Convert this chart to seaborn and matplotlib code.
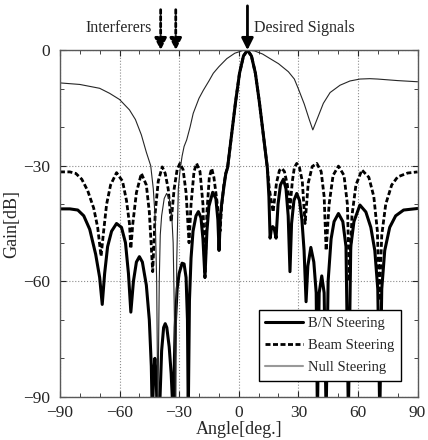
import pandas as pd
import seaborn as sns
import matplotlib.pyplot as plt

# B/N steering (thick solid)
bn_angle = [-90, -85, -81, -78, -75, -72, -70, -68.7, -67.5, -66, -64, -61.5, -59, -57, -55.5,
            -54.3, -53, -51.5, -50, -48.5, -46.5, -45, -44, -43.5, -42.8, -42.2, -41.6, -41,
            -39.6, -38.8, -37.8, -37, -36.2, -35, -34, -33, -32, -31, -30, -28.5, -27.5, -26.5,
            -25.8, -25.4, -24.8, -24, -23, -21.5, -20.3, -19, -18, -17, -16, -15, -13.1, -11.5,
            -10.5, -9.9, -9.2, -8.6, -7.6, -6.5, -5.6, -3.6, -1.6, 0.4, 2.4, 4.4, 6.4, 8.4,
            10.4, 12.4, 14.4, 15.2, 15.8, 16.5, 17.1, 17.8, 18.8, 19.8, 21, 22.5, 23.8, 24.9,
            25.8, 26.6, 27.8, 29.2, 30.6, 31.8, 32.9, 33.9, 34.8, 36.3, 37.8, 39, 39.6, 40.5,
            41.8, 43, 44, 45, 46.5, 48, 50.2, 52.4, 54, 55.2, 56.4, 58, 61, 64, 66.5, 68.5,
            70, 71, 72, 73.5, 76, 79, 83, 90]
bn_gain = [-41.2, -41.2, -41.5, -43, -46.5, -53, -59, -66, -58, -51, -47, -45, -46, -50, -58,
           -68, -60, -55, -53.6, -55, -61, -70, -82, -95, -84, -80, -84, -95,
           -90, -78, -72, -71, -72, -77, -84, -95, -72, -62, -58, -55.3, -55.5, -59,
           -70, -95, -65, -54, -47, -43, -41.9, -43.5, -49, -59, -47, -40.5, -36.9, -38.5,
           -44, -52, -43, -40, -36, -32, -30.5, -22, -13.5, -6, -1.5, 0, -1.5, -6,
           -13.5, -22, -30.5, -38, -48.8, -46.2, -45.8, -46.2, -48.8, -40, -35, -33.5, -36, -43,
           -57.5, -45, -39, -37.2, -39, -44, -52, -65.3, -56, -51.2, -55, -63, -95, -63,
           -58.6, -63, -95, -60, -49, -44.5, -42.4, -44.5, -51, -95, -51, -44.5, -40.2, -42, -46, -52,
           -62, -95, -62, -52, -46, -43, -41.5, -41.1]

# Beam steering (dashed)
beam_angle = [-90, -85, -82, -79, -76, -73, -71, -69.3, -68, -66.5, -64.5, -61.5, -58.5, -56.5,
              -55, -54.3, -53.3, -51.5, -49, -46.5, -45, -43.3, -42, -40.5, -38.5, -37, -35.5,
              -34, -32.5, -31, -29.6, -28, -26.5, -25, -24, -22.5, -21.2, -19.5, -18, -17, -16,
              -14.8, -13.6, -12.5, -11, -9.4, -8.5, -7.5, -6.5, -5.6, -3.6, -1.6, 0.4, 2.4, 4.4,
              6.4, 8.4, 10.4, 12.4, 14.4, 15.4, 17.3, 19, 20.5, 21.7, 23, 24.5, 25.8, 27, 28,
              29.2, 30.5, 32, 33.4, 35, 37, 39.3, 41.5, 43, 44, 45.5, 47.5, 50.2, 53, 54.7,
              55.7, 57, 59, 62, 65.5, 68, 69.8, 70.8, 72, 74, 77, 80, 85, 90]
beam_gain = [-31.6, -31.6, -32, -33.5, -36.5, -41, -46, -53.5, -47, -40, -35, -31.8, -34, -39,
             -45, -51.5, -45, -37, -32, -35, -42, -57.5, -42, -34, -30.3, -32, -36,
             -44.5, -36, -31, -29.4, -31, -37, -50, -40, -31.5, -29.4, -31.5, -40, -59, -42,
             -33, -30.7, -33, -39, -47, -40, -35, -32, -30.5, -22, -13.5, -6, -1.5, 0,
             -1.5, -6, -13.5, -22, -30.5, -36, -42, -34.5, -31.2, -30.7, -31.5, -35, -41, -34, -30.5,
             -29.4, -30.3, -34, -45, -34.5, -30.2, -29.4, -31.5, -38, -52, -40, -32.5, -30.1, -32.5, -40,
             -60, -43, -35, -31.1, -33, -38, -47, -65, -48, -40, -35, -32.9, -31.9, -31.6]

# Null steering (thin)
null_angle = [-90, -80, -70, -65, -60, -55, -52, -49, -46.5, -44.3, -43, -42, -41.3, -40.7,
              -40, -39.5, -38.8, -37.5, -36.3, -35, -33.8, -33, -32.5, -31.7, -31.2, -30.4,
              -29.5, -28.5, -27.5, -26.2, -24.5, -22.9, -20, -17.8, -15, -12.8, -10, -6, -2,
              2, 5, 8, 12, 15.8, 20, 25, 28, 30, 33, 35.5, 37.3, 39, 42.6, 46, 51, 56, 61, 66,
              70, 80, 90]
null_gain = [-8.5, -8.9, -9.9, -11.2, -12.8, -15.5, -18, -22, -26.5, -30, -36, -44, -60, -95,
             -60, -48, -43, -38.5, -37.2, -38.5, -42, -50, -65, -95, -55, -36,
             -31, -27.5, -25, -23.3, -20, -16.4, -12.5, -10.4, -8, -6, -4.3, -2.2, -0.8,
             -0.1, 0, -0.2, -1, -2.2, -3.5, -5.6, -7.5, -10, -14, -18, -20.7, -18.5, -13.8, -11, -9.1, -8, -7.5, -7.4,
             -7.5, -7.9, -8.2]

x_ticks = [-90, -60, -30, 0, 30, 60, 90]
y_ticks = [-90, -60, -30, 0]
interferers = [-39.3, -31.7]
desired = 4.4

df = pd.concat([
    pd.DataFrame({"angle": bn_angle, "gain": bn_gain, "series": "B/N Steering"}),
    pd.DataFrame({"angle": beam_angle, "gain": beam_gain, "series": "Beam Steering"}),
    pd.DataFrame({"angle": null_angle, "gain": null_gain, "series": "Null Steering"}),
])

sns.set_style("ticks")
plt.rcParams['font.family'] = ['Liberation Serif', 'DejaVu Serif']

fig = plt.figure(figsize=(4.28, 4.40), dpi=100)
ax = fig.add_axes([0.140, 0.098, 0.8355, 0.788])

styles = {
    "B/N Steering": dict(color="black", lw=2.2, ls="-"),
    "Beam Steering": dict(color="black", lw=2.0, ls=(0, (1.8, 0.9))),
    "Null Steering": dict(color="0.15", lw=0.8, ls="-"),
}
for name, st in styles.items():
    sub = df[df["series"] == name]
    sns.lineplot(data=sub, x="angle", y="gain", ax=ax, estimator=None, sort=False,
                 color=st["color"], linewidth=st["lw"], linestyle=st["ls"], label=name)

ax.set_xlim(-90, 90)
ax.set_ylim(-90, 0)
ax.set_xticks(x_ticks)
ax.set_yticks(y_ticks)
ax.set_xticks(range(-90, 91, 10), minor=True)
ax.set_yticks(range(-90, 1, 10), minor=True)
ax.tick_params(which="both", direction="in", top=True, right=True, labelsize=12.5)
ax.tick_params(which="major", length=4, width=0.8)
ax.tick_params(axis="x", which="major", pad=6)
ax.tick_params(axis="y", which="major", pad=7)
ax.tick_params(which="minor", length=3, width=0.6)
ax.grid(True, which="major", color="0.55", linestyle=":", linewidth=0.8)
for s in ax.spines.values():
    s.set_color("0.35")
    s.set_linewidth(1.0)

ax.set_xlabel("Angle[deg.]", fontsize=13, labelpad=0)
ax.set_ylabel("Gain[dB]", fontsize=13, labelpad=2)

# arrows above the plot
for a in interferers:
    ax.annotate("", xy=(a, 0), xytext=(a, 10.5), annotation_clip=False,
                arrowprops=dict(arrowstyle="-|>,head_length=0.7,head_width=0.35", color="black",
                                lw=2, linestyle=(0, (1.4, 1.0)), shrinkA=0, shrinkB=0))
ax.annotate("", xy=(desired, 0), xytext=(desired, 11.5), annotation_clip=False,
            arrowprops=dict(arrowstyle="-|>,head_length=0.7,head_width=0.35", color="black",
                            lw=2, shrinkA=0, shrinkB=0))
ax.text(-43.5, 5.8, "Interferers", ha="right", va="center", fontsize=11.5, clip_on=False)
ax.text(7.8, 5.8, "Desired Signals", ha="left", va="center", fontsize=11.5, clip_on=False)

leg = ax.legend(loc="lower right", fontsize=10.5, frameon=True, fancybox=False,
                edgecolor="black", framealpha=1, handlelength=2.6, borderpad=0.45,
                labelspacing=0.6, handletextpad=0.35, bbox_to_anchor=(0.975, 0.026))
leg.get_frame().set_linewidth(1.0)
leg.get_lines()[2].set_color("0.6")
leg.get_lines()[2].set_linewidth(1.5)

fig.savefig("out.png", dpi=100)
